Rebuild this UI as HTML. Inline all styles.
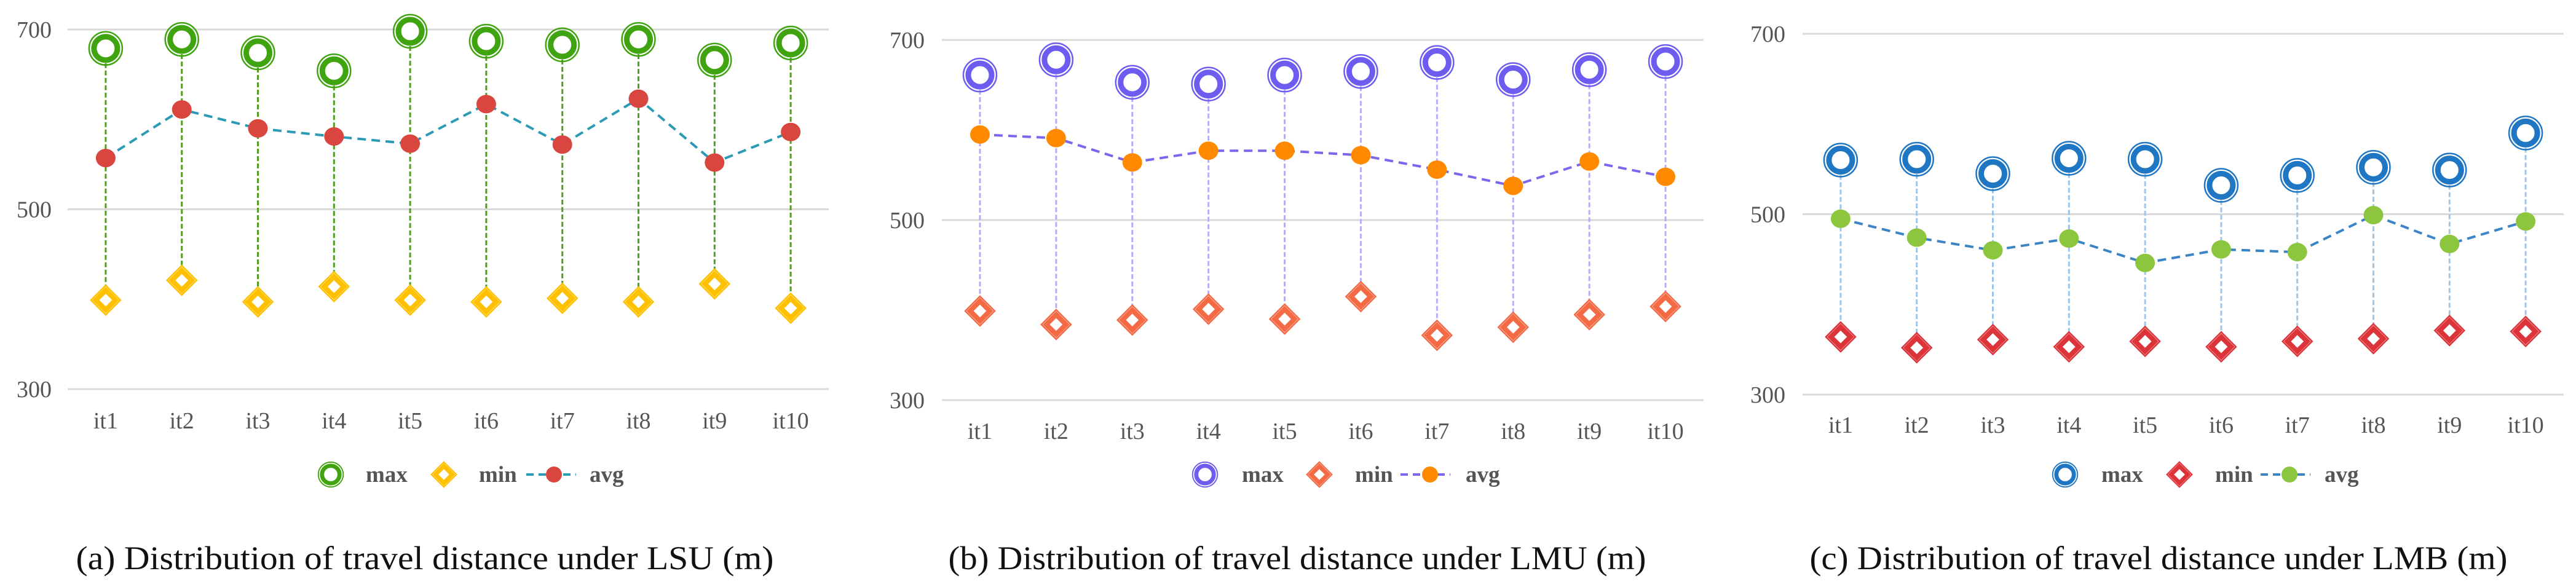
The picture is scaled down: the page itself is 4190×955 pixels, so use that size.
<!DOCTYPE html>
<html><head><meta charset="utf-8">
<style>
html,body{margin:0;padding:0;background:#fff;}
svg{display:block;}
text{font-family:"Liberation Serif",serif;}
</style></head>
<body>
<svg id="fig" width="4190" height="955" viewBox="0 0 4190 955" xmlns="http://www.w3.org/2000/svg"></svg>
<script>
const categories = ["it1","it2","it3","it4","it5","it6","it7","it8","it9","it10"];
const yTicks = [300,500,700];
const lsuMax = [679,689,674,654,698,687,683,689,666,685];
const lsuAvg = [557,611,590,581,573,617,572,623,552,586];
const lsuMin = [399,421,397,414,399,397,401,397,417,390];
const lmuMax = [661,678,653,651,661,665,675,656,667,676];
const lmuAvg = [595,591,564,577,577,572,556,538,565,548];
const lmuMin = [399,384,389,401,390,415,372,381,395,404];
const lmbMax = [560,561,545,562,561,532,543,552,549,590];
const lmbAvg = [495,474,460,473,446,461,458,499,467,492];
const lmbMin = [364,352,361,353,359,353,359,362,371,370];
const captions = ["(a) Distribution of travel distance under LSU (m)","(b) Distribution of travel distance under LMU (m)","(c) Distribution of travel distance under LMB (m)"];

const NS="http://www.w3.org/2000/svg";
const svg=document.getElementById('fig');
function mk(tag,attrs,parent){const e=document.createElementNS(NS,tag);for(const k in attrs)e.setAttribute(k,attrs[k]);(parent||svg).appendChild(e);return e;}

const panels=[
 {id:'lsu',max:lsuMax,avg:lsuAvg,min:lsuMin,left:110,right:1348,y700:48,y300:633,labY:697,tickX:84,
  cMax:'#3fa40f',cMin:'#ffc000',cAvg:'#d9463f',cLine:'#2b9bb5',cDrop:'#4f9e1f',
  leg:{circ:538,maxT:595,dia:722,minT:779,l1:856,l2:937,dot:901,avgT:959},cap:691},
 {id:'lmu',max:lmuMax,avg:lmuAvg,min:lmuMin,left:1532,right:2771,y700:65,y300:651,labY:714,tickX:1504,
  cMax:'#6e5cf0',cMin:'#f46a45',cAvg:'#ff8a00',cLine:'#7d66ee',cDrop:'#b9aef4',
  leg:{circ:1960,maxT:2020,dia:2146,minT:2204,l1:2278,l2:2359,dot:2326,avgT:2384},cap:2110},
 {id:'lmb',max:lmbMax,avg:lmbAvg,min:lmbMin,left:2932,right:4170,y700:55,y300:642,labY:704,tickX:2904,
  cMax:'#1f76c2',cMin:'#dd343a',cAvg:'#8cc63f',cLine:'#3b84c6',cDrop:'#9fc6e8',
  leg:{circ:3359,maxT:3418,dia:3545,minT:3603,l1:3677,l2:3758,dot:3724,avgT:3781},cap:3511}
];

function ringMarker(g,cx,cy,c,s){
  const o=mk('circle',{cx:cx,cy:cy,r:27*s,fill:'none',stroke:c,'stroke-width':2.5*s},g);
  const t=mk('circle',{cx:cx,cy:cy,r:19*s,fill:'#fff',stroke:c,'stroke-width':9*s},g);
  return t;
}
function diaMarker(g,cx,cy,c,s){
  const p=(r)=>`${cx},${cy-r} ${cx+r},${cy} ${cx},${cy+r} ${cx-r},${cy}`;
  mk('polygon',{points:p(24*s),fill:'#fff',stroke:c,'stroke-width':2.5*s},g);
  mk('polygon',{points:p(16*s),fill:'#fff',stroke:c,'stroke-width':8*s},g);
}

panels.forEach((P,pi)=>{
  const g=mk('g',{});
  
  
  const y=v=>P.y300+(v-300)*(P.y700-P.y300)/400;
  const bw=(P.right-P.left)/categories.length;
  const x=i=>P.left+(i+0.5)*bw;
  yTicks.forEach(t=>{
    const l=mk('line',{x1:P.left,x2:P.right,y1:y(t),y2:y(t),stroke:'#d9d9d9','stroke-width':3},g);
    
    
    const tx=mk('text',{x:P.tickX,y:y(t)+13,'text-anchor':'end','font-size':38,fill:'#555'},g);
    tx.textContent=t;
    
    
  });
  categories.forEach((c,i)=>{
    const tx=mk('text',{x:x(i),y:P.labY,'text-anchor':'middle','font-size':38,fill:'#555'},g);
    tx.textContent=c;
    
    
    const d=mk('line',{x1:x(i),x2:x(i),y1:y(P.max[i]),y2:y(P.min[i]),stroke:P.cDrop,'stroke-width':3,'stroke-dasharray':'8 4'},g);
    
    
  });
  const pts=P.avg.map((v,i)=>x(i)+','+y(v)).join(' ');
  const pl=mk('polyline',{points:pts,fill:'none',stroke:P.cLine,'stroke-width':4,'stroke-dasharray':'14 9'},g);
  
  
  categories.forEach((c,i)=>{
    const mg=mk('g',{},g);
    
    
    ringMarker(mg,x(i),y(P.max[i]),P.cMax,1);
    const ng=mk('g',{},g);
    
    
    diaMarker(ng,x(i),y(P.min[i]),P.cMin,1);
    const a=mk('ellipse',{cx:x(i),cy:y(P.avg[i]),rx:16,ry:15,fill:P.cAvg},g);
    
    
  });
  // legend
  const L=P.leg, ly=772;
  const lg=mk('g',{},g);
  
  
  ringMarker(lg,L.circ,ly,P.cMax,0.75);
  diaMarker(lg,L.dia,ly,P.cMin,0.85);
  mk('line',{x1:L.l1,x2:L.l2,y1:ly,y2:ly,stroke:P.cLine,'stroke-width':4,'stroke-dasharray':'12 8'},lg);
  mk('ellipse',{cx:L.dot,cy:ly,rx:13,ry:13,fill:P.cAvg},lg);
  [['max',L.maxT],['min',L.minT],['avg',L.avgT]].forEach(([t,xx])=>{
    const tx=mk('text',{x:xx,y:ly+12,'font-size':37,'font-weight':'bold',fill:'#555'},lg);
    tx.textContent=t;
    
    
  });
  const cap=mk('text',{x:P.cap,y:926,'text-anchor':'middle','font-size':54,fill:'#111',textLength:1135,lengthAdjust:'spacingAndGlyphs'},g);
  cap.textContent=captions[pi];
  
  
});
</script>
</body></html>
